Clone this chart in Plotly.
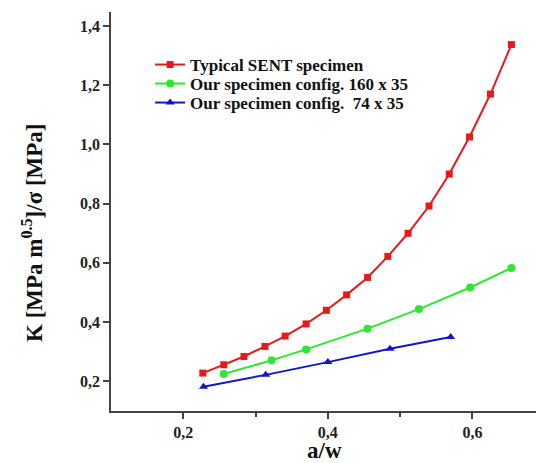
import plotly.graph_objects as go

# data
x_sent = [0.227, 0.256, 0.284, 0.313, 0.341, 0.370, 0.398, 0.426, 0.455, 0.483,
          0.511, 0.540, 0.568, 0.596, 0.625, 0.654]
y_sent = [0.228, 0.256, 0.284, 0.318, 0.353, 0.394, 0.440, 0.492, 0.551, 0.622,
          0.700, 0.792, 0.900, 1.025, 1.170, 1.337]

x_160 = [0.256, 0.322, 0.370, 0.455, 0.526, 0.597, 0.654]
y_160 = [0.225, 0.271, 0.308, 0.378, 0.444, 0.517, 0.583]

x_74 = [0.228, 0.314, 0.400, 0.486, 0.570]
y_74 = [0.182, 0.222, 0.265, 0.310, 0.350]

names = ["Typical SENT specimen", "Our specimen config. 160 x 35", "Our specimen config.  74 x 35"]
x_ticks = [0.2, 0.4, 0.6]
y_ticks = [0.2, 0.4, 0.6, 0.8, 1.0, 1.2, 1.4]
x_title = "a/w"
y_title = "K [MPa m<sup>0.5</sup>]/σ [MPa]"

FONT = "Liberation Serif"
AX = "#444444"


def fmt(v):
    return "<b>" + f"{v:.1f}".replace(".", ",") + "</b>"


def legend_name(s):
    return "<b>" + s.replace("  ", "&nbsp; ") + "</b>"


fig = go.Figure()
fig.add_trace(go.Scatter(x=x_sent, y=y_sent, name=legend_name(names[0]), mode="lines+markers",
                         line=dict(color="#e8191b", width=2), legend="legend",
                         marker=dict(symbol="square", size=7, color="#e8191b")))
fig.add_trace(go.Scatter(x=x_160, y=y_160, name=legend_name(names[1]), mode="lines+markers",
                         line=dict(color="#2ee82e", width=2), legend="legend2",
                         marker=dict(symbol="circle", size=8, color="#2ee82e")))
fig.add_trace(go.Scatter(x=x_74, y=y_74, name=legend_name(names[2]), mode="lines+markers",
                         line=dict(color="#1515c8", width=2), legend="legend3",
                         marker=dict(symbol="triangle-up", size=8, color="#1515c8")))

# three single-row legends so that the rows can sit as close together as in the reference
leg_common = dict(x=0.092, xanchor="left", yanchor="middle",
                  font=dict(family=FONT, size=17, color="#111111"),
                  bgcolor="rgba(0,0,0,0)", itemwidth=30)

fig.update_layout(
    width=536, height=463,
    margin=dict(l=111, r=0, t=12, b=52, autoexpand=False),
    paper_bgcolor="white", plot_bgcolor="white",
    font=dict(family=FONT, color="#222222"),
    showlegend=True,
    legend=dict(y=1 - (65 - 12) / 399, **leg_common),
    legend2=dict(y=1 - (84 - 12) / 399, **leg_common),
    legend3=dict(y=1 - (103 - 12) / 399, **leg_common),
    xaxis=dict(range=[0.1, 0.688], tickvals=x_ticks, ticktext=[fmt(v) for v in x_ticks],
               automargin=False,
               showgrid=False, zeroline=False, showline=True, linecolor=AX, linewidth=1.5,
               ticks="outside", ticklen=6, tickwidth=1.5, tickcolor=AX,
               minor=dict(tickvals=[0.3, 0.5], ticks="outside", ticklen=4, tickwidth=1.5, tickcolor=AX),
               tickfont=dict(family=FONT, size=16, color="#222222")),
    yaxis=dict(range=[0.1, 1.447], tickvals=y_ticks, ticktext=[fmt(v) for v in y_ticks],
               automargin=False,
               showgrid=False, zeroline=False, showline=True, linecolor=AX, linewidth=1.5,
               ticks="outside", ticklen=6, tickwidth=1.5, tickcolor=AX,
               tickfont=dict(family=FONT, size=16, color="#222222")),
)

fig.add_annotation(text="<b>" + x_title + "</b>", xref="paper", yref="paper",
                   x=0.5035, y=-0.1, xanchor="center", yanchor="middle", showarrow=False,
                   font=dict(family=FONT, size=23, color="#111111"))
fig.add_annotation(text="<b>" + y_title + "</b>", xref="paper", yref="paper",
                   x=-0.186, y=0.446, xanchor="center", yanchor="middle", showarrow=False,
                   textangle=-90, font=dict(family=FONT, size=23, color="#111111"))

fig.write_html("out.html", config={"displayModeBar": False},
               post_script="document.body.style.margin='0';")
